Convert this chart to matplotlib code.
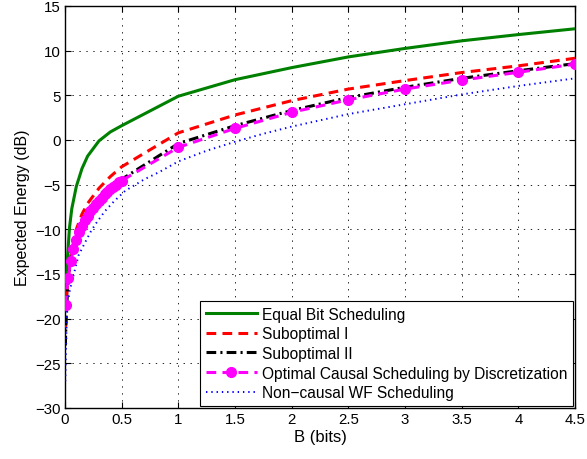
import matplotlib
matplotlib.use("Agg")
import matplotlib.pyplot as plt

plt.rcParams['font.family'] = ['Liberation Sans', 'DejaVu Sans']
plt.rcParams['lines.scale_dashes'] = False

# ---- data ----
b_equal = [0.01, 0.02, 0.04, 0.06, 0.1, 0.15, 0.2, 0.3, 0.4, 0.5,
           1.0, 1.5, 2.0, 2.5, 3.0, 3.5, 4.0, 4.5]
e_equal = [-17.5, -13.5, -9.8, -7.7, -5.2, -3.2, -1.8, -0.1, 0.9, 1.6,
           4.9, 6.75, 8.1, 9.3, 10.25, 11.1, 11.8, 12.45]

b_sub1 = [0.005, 0.02, 0.05, 0.1, 0.15, 0.2, 0.3, 0.4, 0.5,
          1.0, 1.5, 2.0, 2.5, 3.0, 3.5, 4.0, 4.5]
e_sub1 = [-21.0, -16.5, -13.0, -10.0, -8.3, -7.1, -5.4, -4.1, -3.0,
          0.8, 2.8, 4.4, 5.7, 6.65, 7.55, 8.3, 9.15]

b_sub2 = [0.003, 0.01, 0.02, 0.03, 0.05, 0.075, 0.1, 0.15, 0.2, 0.25, 0.3,
          0.35, 0.4, 0.45, 0.5, 1.0, 1.5, 2.0, 2.5, 3.0, 3.5, 4.0, 4.5]
e_sub2 = [-23.0, -20.0, -17.5, -15.3, -13.5, -12.1, -11.1, -9.5, -8.4, -7.5,
          -6.7, -6.0, -5.4, -4.9, -4.4, -0.4, 1.6, 3.3, 4.75, 5.9, 6.9, 7.75, 8.55]

b_opt = [0.005, 0.025, 0.05, 0.075, 0.1, 0.125, 0.15, 0.175, 0.2, 0.225,
         0.25, 0.275, 0.3, 0.325, 0.35, 0.375, 0.4, 0.425, 0.45, 0.475, 0.5,
         1.0, 1.5, 2.0, 2.5, 3.0, 3.5, 4.0, 4.5]
e_opt = [-18.5, -15.5, -13.6, -12.2, -11.2, -10.3, -9.6, -9.0, -8.5, -8.0,
         -7.6, -7.2, -6.8, -6.45, -6.1, -5.8, -5.5, -5.25, -5.0, -4.75, -4.55,
         -0.82, 1.3, 3.1, 4.5, 5.7, 6.7, 7.58, 8.5]

b_wf = [0.003, 0.008, 0.015, 0.025, 0.04, 0.06, 0.09, 0.12, 0.18, 0.23,
        0.27, 0.35, 0.43, 0.53, 0.7, 0.83, 1.0, 1.25, 1.5, 1.75, 2.0,
        2.5, 3.0, 3.5, 4.0, 4.5]
e_wf = [-27.0, -23.8, -20.0, -18.3, -17.0, -15.9, -14.4, -12.9, -11.4, -10.2,
        -9.4, -8.0, -6.9, -5.7, -4.4, -3.6, -2.4, -1.2, -0.2, 0.7, 1.5,
        2.9, 4.0, 5.1, 6.05, 6.9]

labels = ["Equal Bit Scheduling", "Suboptimal I", "Suboptimal II",
          "Optimal Causal Scheduling by Discretization", "Non\u2212causal WF Scheduling"]

xticks = [0, 0.5, 1, 1.5, 2, 2.5, 3, 3.5, 4, 4.5]
xticklabels = ["0", "0.5", "1", "1.5", "2", "2.5", "3", "3.5", "4", "4.5"]
yticks = [-30, -25, -20, -15, -10, -5, 0, 5, 10, 15]
yticklabels = ["\u221230", "\u221225", "\u221220", "\u221215", "\u221210", "\u22125", "0", "5", "10", "15"]

# ---- figure ----
fig = plt.figure(figsize=(5.87, 4.60), dpi=100)
ax = fig.add_axes([0.1107, 0.1109, 0.8689, 0.8739])

ax.plot(b_equal, e_equal, color=(0, 0.5, 0), lw=2.2, label=labels[0], zorder=3)
ax.plot(b_sub1, e_sub1, color='red', lw=2.2, dashes=(7, 4.5), label=labels[1], zorder=3)
ax.plot(b_sub2, e_sub2, color='black', lw=2.2, dashes=(7, 3, 1.5, 3), label=labels[2], zorder=3)
ax.plot(b_opt, e_opt, color='magenta', lw=2.2, dashes=(7, 4.5), marker='o',
        markersize=7, markerfacecolor='magenta', markeredgecolor='magenta',
        label=labels[3], zorder=4)
ax.plot(b_wf, e_wf, color='blue', lw=1.4, dashes=(1, 2.8), label=labels[4], zorder=3)

ax.set_xlim(0, 4.5)
ax.set_ylim(-30, 15)
ax.set_xticks(xticks)
ax.set_xticklabels(xticklabels)
ax.set_yticks(yticks)
ax.set_yticklabels(yticklabels)
ax.tick_params(direction='in', top=True, right=True, labelsize=10.8, length=4, width=0.8, pad=3)
ax.grid(True, color='black', linestyle=(0, (1, 4)), linewidth=0.6)
for s in ax.spines.values():
    s.set_linewidth(1.0)

ax.set_xlabel("B (bits)", fontsize=12, labelpad=2)
ax.set_ylabel("Expected Energy (dB)", fontsize=11.5, labelpad=4)

leg = ax.legend(loc='lower right', fontsize=11.2, frameon=True, fancybox=False,
                framealpha=1, edgecolor='black', handlelength=3.3,
                handletextpad=0.3, borderaxespad=0.15, labelspacing=0.3,
                borderpad=0.35)
leg.get_frame().set_linewidth(0.8)

fig.savefig("out.png", dpi=100)
